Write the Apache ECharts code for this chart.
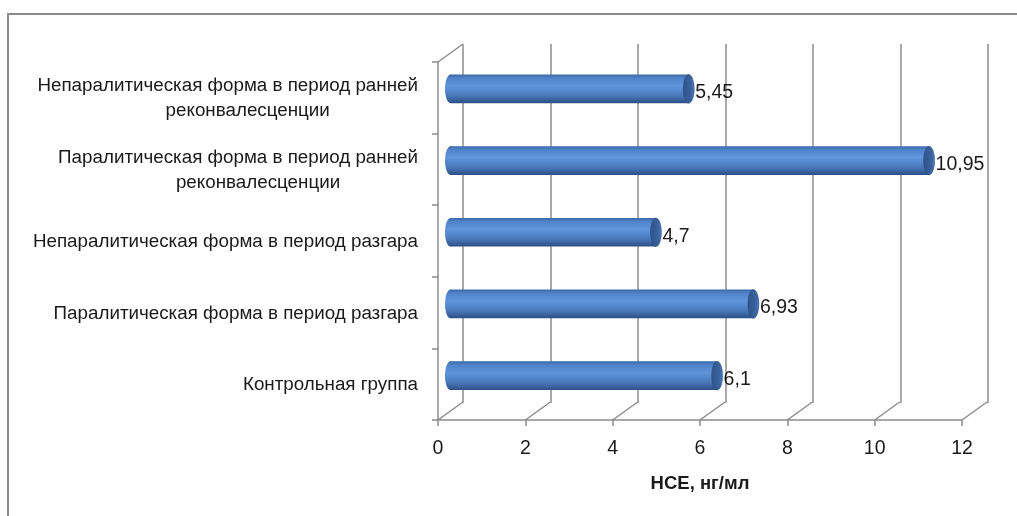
<!DOCTYPE html>
<html>
<head>
<meta charset="utf-8">
<title>НСЕ</title>
<script src="https://cdn.jsdelivr.net/npm/echarts@6/dist/echarts.min.js"></script>
<style>
  html, body { margin: 0; padding: 0; background: #fff; }
  #chart { width: 1017px; height: 516px; }
</style>
</head>
<body>
<div id="chart"></div>
<script>
// категории снизу вверх (как рисует ECharts)
var categories = [
    'Контрольная группа',
    'Паралитическая форма в период разгара',
    'Непаралитическая форма в период разгара',
    'Паралитическая форма в период ранней\nреконвалесценции',
    'Непаралитическая форма в период ранней\nреконвалесценции'
];
var values = [6.1, 6.93, 4.7, 10.95, 5.45];
var xTicks = [0, 2, 4, 6, 8, 10, 12];

// глубина псевдо-3D
var DX = 25, DY = -18;
var FONT = 'Liberation Sans';

var myChart = echarts.init(document.getElementById('chart'));

// линии пола и левой стены
function renderFrame(params, api) {
    var cs = params.coordSys;
    var v = api.value(0);
    var p = api.coord([v, 0]);
    var bottom = cs.y + cs.height;
    var children = [{
        type: 'line',
        shape: { x1: p[0], y1: bottom, x2: p[0] + DX, y2: bottom + DY },
        style: { stroke: '#8c8c8c', lineWidth: 1.5 }
    }];
    if (params.dataIndex === 0) {
        children.push({
            type: 'line',
            shape: { x1: p[0], y1: cs.y, x2: p[0] + DX, y2: cs.y + DY },
            style: { stroke: '#8c8c8c', lineWidth: 1.5 }
        });
    }
    return { type: 'group', children: children };
}

// цилиндры
function renderBar(params, api) {
    var idx = api.value(0);
    var val = api.value(1);
    var start = api.coord([0, idx]);
    var end = api.coord([val, idx]);
    var h = api.size([0, 1])[1] * 0.4;
    var rx = 5.5;
    var top = start[1] - h / 2;
    var grad = new echarts.graphic.LinearGradient(0, 0, 0, 1, [
        { offset: 0, color: '#3b68a8' },
        { offset: 0.12, color: '#4f82c8' },
        { offset: 0.4, color: '#6096dc' },
        { offset: 0.75, color: '#4777b8' },
        { offset: 1, color: '#2c4f85' }
    ]);
    var capGrad = new echarts.graphic.LinearGradient(0, 0, 1, 0, [
        { offset: 0, color: '#2e5288' },
        { offset: 0.7, color: '#3a639e' },
        { offset: 1, color: '#4f7cbc' }
    ]);
    return {
        type: 'group',
        children: [
            { type: 'ellipse', shape: { cx: start[0], cy: start[1], rx: rx, ry: h / 2 }, style: { fill: grad } },
            { type: 'rect', shape: { x: start[0], y: top, width: end[0] - start[0], height: h }, style: { fill: grad } },
            { type: 'ellipse', shape: { cx: end[0], cy: end[1], rx: rx, ry: h / 2 }, style: { fill: capGrad, stroke: '#2a4a7c', lineWidth: 0.5 } },
            {
                type: 'text',
                x: end[0] + rx + 1, y: end[1] + 4,
                style: {
                    text: String(val).replace('.', ','),
                    fill: '#1a1a1a', font: '19.5px "' + FONT + '"',
                    verticalAlign: 'middle', align: 'left'
                }
            }
        ]
    };
}

var option = {
    animation: false,
    graphic: [{
        type: 'rect',
        shape: { x: 8, y: 14, width: 1100, height: 600 },
        style: { fill: 'none', stroke: '#8a8a8a', lineWidth: 2 }
    }],
    grid: [
        // задняя стенка
        { left: 463, right: 29, top: 44, bottom: 113 },
        // передний план (оси)
        { left: 438, right: 55, top: 62, bottom: 96 },
        // середина (столбцы)
        { left: 450.5, right: 42, top: 53, bottom: 104.5 }
    ],
    xAxis: [
        {
            gridIndex: 0, type: 'value', min: 0, max: 12, interval: 2,
            axisLine: { show: false }, axisTick: { show: false }, axisLabel: { show: false },
            splitLine: { show: true, lineStyle: { color: '#8c8c8c', width: 1.5 } }
        },
        {
            gridIndex: 1, type: 'value', min: 0, max: 12, interval: 2,
            axisLine: { show: true, lineStyle: { color: '#8c8c8c', width: 1.5 } },
            axisTick: { show: true, length: 6, lineStyle: { color: '#8c8c8c', width: 1.5 } },
            axisLabel: { color: '#1a1a1a', fontSize: 19.5, fontFamily: FONT, margin: 19 },
            splitLine: { show: false },
            name: 'НСЕ, нг/мл', nameLocation: 'middle', nameGap: 54,
            nameTextStyle: { color: '#1a1a1a', fontSize: 18.5, fontWeight: 'bold', fontFamily: FONT }
        },
        {
            gridIndex: 2, type: 'value', min: 0, max: 12, interval: 2,
            show: false
        }
    ],
    yAxis: [
        {
            gridIndex: 0, type: 'category', data: categories, show: false
        },
        {
            gridIndex: 1, type: 'category', data: categories,
            axisLine: { show: true, lineStyle: { color: '#8c8c8c', width: 1.5 } },
            axisTick: { show: true, length: 6, lineStyle: { color: '#8c8c8c', width: 1.5 } },
            axisLabel: {
                margin: 20,
                formatter: function (s) {
                    return s.split('\n').map(function (l, i) {
                        return (i === 0 ? '{c|' : '{d|') + l + '}';
                    }).join('\n');
                },
                rich: {
                    c: { align: 'center', color: '#1a1a1a', fontSize: 18.8, fontFamily: FONT, lineHeight: 25, padding: [2, 0, 0, 0] },
                    d: { align: 'center', color: '#1a1a1a', fontSize: 18.8, fontFamily: FONT, lineHeight: 25, padding: [2, 0, 0, 40] }
                }
            }
        },
        {
            gridIndex: 2, type: 'category', data: categories, show: false
        }
    ],
    series: [
        {
            type: 'custom',
            xAxisIndex: 1, yAxisIndex: 1,
            renderItem: renderFrame,
            data: xTicks.map(function (t) { return [t]; }),
            silent: true, z: 1
        },
        {
            type: 'custom',
            xAxisIndex: 2, yAxisIndex: 2,
            renderItem: renderBar,
            encode: { x: 1, y: 0 },
            data: values.map(function (v, i) { return [i, v]; }),
            z: 5
        }
    ]
};

myChart.setOption(option);
window.addEventListener('resize', function () {
    myChart.resize();
});
</script>
</body>
</html>
